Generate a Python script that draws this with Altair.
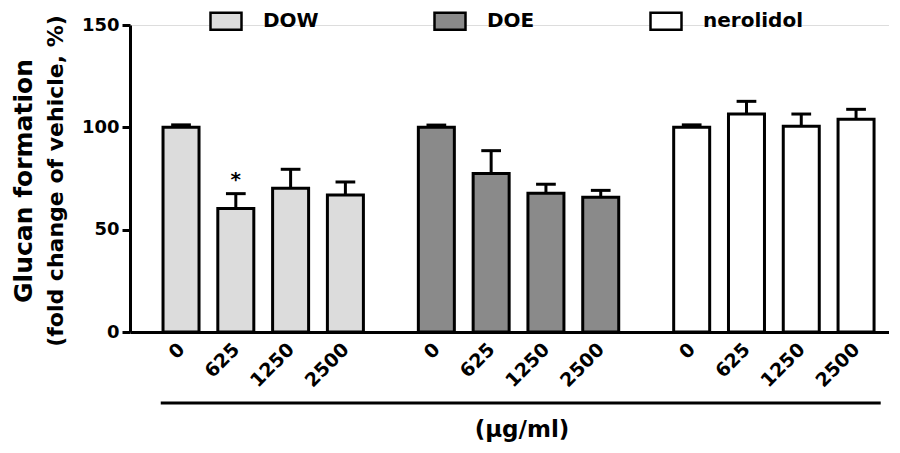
import altair as alt
import pandas as pd

# ---- data ----
groups = ["DOW", "DOE", "nerolidol"]
doses = ["0", "625", "1250", "2500"]
dow_mean = [100.0, 60.4, 70.2, 66.9]
dow_err = [1.2, 7.2, 9.3, 6.4]
doe_mean = [100.0, 77.5, 67.8, 65.8]
doe_err = [1.1, 11.1, 4.4, 3.4]
ner_mean = [100.0, 106.5, 100.5, 103.9]
ner_err = [1.2, 6.2, 6.0, 4.9]
dow_sig = ["", "*", "", ""]
y_ticks = [0, 50, 100, 150]
title_line1 = "Glucan formation"
title_line2 = "(fold change of vehicle, %)"
unit_label = "(µg/ml)"

# ---- styling / layout ----
FONT = "DejaVu Sans"
fills = ["#dcdcdc", "#8a8a8a", "#ffffff"]
GROUP_STEP = 4.66  # slot distance between the first bars of neighbouring groups

rows = []
series = [(dow_mean, dow_err), (doe_mean, doe_err), (ner_mean, ner_err)]
for g, name in enumerate(groups):
    means, errs = series[g]
    for i, dose in enumerate(doses):
        rows.append(dict(group=name, dose=dose, mean=means[i], err=errs[i],
                         pos=round(g * GROUP_STEP + i, 4),
                         sig=dow_sig[i] if name == "DOW" else ""))
df = pd.DataFrame(rows)
positions = df["pos"].tolist()

label_array = "[" + ",".join("'%s'" % d for d in doses) + "]"
label_expr = (label_array + "[round(datum.value - floor((datum.value + 0.5) / %s) * %s)]"
              % (GROUP_STEP, GROUP_STEP))

xs = alt.Scale(domain=[-0.84, 12.83], nice=False, zero=False)
ys = alt.Scale(domain=[0, 150], nice=False)

base = alt.Chart(df).transform_calculate(
    top="datum.mean + datum.err",
    cap_lo="datum.pos - 0.18",
    cap_hi="datum.pos + 0.18",
)

bars = base.mark_bar(size=36, stroke="black", strokeWidth=3).encode(
    x=alt.X("pos:Q", scale=xs, axis=alt.Axis(
        values=positions, labelExpr=label_expr, labelAngle=-45,
        labelAlign="right", labelBaseline="middle", labelPadding=14,
        ticks=False, tickSize=0, grid=False, domainWidth=3, domainColor="black",
        labelFont=FONT, labelFontSize=19, labelFontWeight="bold",
        labelColor="black", title=None)),
    y=alt.Y("mean:Q", scale=ys, axis=alt.Axis(
        values=y_ticks, grid=False, domainWidth=3, domainColor="black",
        tickSize=8, tickWidth=3, tickColor="black", labelPadding=3,
        labelFont=FONT, labelFontSize=18, labelFontWeight="bold",
        labelColor="black", title=None)),
    fill=alt.Fill("group:N", scale=alt.Scale(domain=groups, range=fills),
                  legend=alt.Legend(
                      title=None, orient="none", legendX=79, legendY=-21,
                      direction="horizontal", symbolType="M-1,-0.55H1V0.55H-1Z",
                      symbolSize=961, symbolStrokeColor="black",
                      symbolStrokeWidth=2.5, labelFont=FONT, labelFontSize=20,
                      labelFontWeight="bold", labelColor="black", labelOffset=20,
                      columnPadding=110, padding=0)),
)

err_line = base.mark_rule(strokeWidth=3, color="black").encode(
    x=alt.X("pos:Q", scale=xs), y=alt.Y("mean:Q", scale=ys), y2="top:Q")

err_cap = base.mark_rule(strokeWidth=3, color="black").encode(
    x=alt.X("cap_lo:Q", scale=xs), x2="cap_hi:Q", y=alt.Y("top:Q", scale=ys))

star = base.transform_filter("datum.sig != ''").mark_text(
    font=FONT, fontSize=20, fontWeight="bold", color="black", dy=-14,
    baseline="middle").encode(
    x=alt.X("pos:Q", scale=xs), y=alt.Y("top:Q", scale=ys), text="sig:N")

bracket = alt.Chart(df).transform_aggregate(
    lo="min(pos)", hi="max(pos)"
).transform_calculate(
    lo2="datum.lo - 0.37", hi2="datum.hi + 0.45"
).mark_rule(strokeWidth=3, color="black").encode(
    x=alt.X("lo2:Q", scale=xs), x2="hi2:Q", y=alt.value(378))

unit = alt.Chart(pd.DataFrame({"t": [unit_label]})).mark_text(
    font=FONT, fontSize=23, fontWeight="bold", color="black",
    align="center", baseline="middle").encode(
    text="t:N", x=alt.value(392), y=alt.value(405))

t1 = alt.Chart(pd.DataFrame({"t": [title_line1]})).mark_text(
    font=FONT, fontSize=25, fontWeight="bold", color="black", angle=270,
    align="center", baseline="middle").encode(
    text="t:N", x=alt.value(-106), y=alt.value(156))

t2 = alt.Chart(pd.DataFrame({"t": [title_line2]})).mark_text(
    font=FONT, fontSize=22, fontWeight="bold", color="black", angle=270,
    align="center", baseline="middle").encode(
    text="t:N", x=alt.value(-74), y=alt.value(156))

chart = alt.layer(bars, err_line, err_cap, star, bracket, unit, t1, t2).properties(
    width=759, height=307,
    autosize=alt.AutoSizeParams(type="none"),
    padding={"left": 122, "top": 17, "right": 0, "bottom": 113},
).configure_view(stroke=None).configure(background="white")

chart.save("out.html", embed_options={"renderer": "svg", "actions": False})
